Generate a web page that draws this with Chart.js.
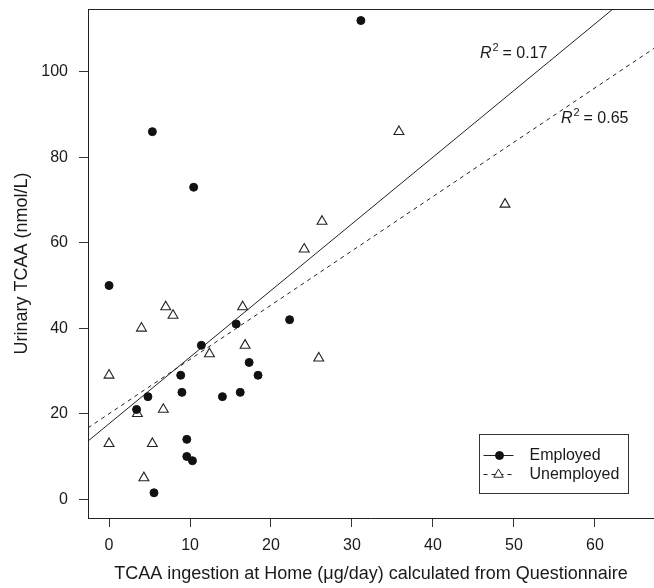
<!DOCTYPE html>
<html><head><meta charset="utf-8">
<script src="https://cdn.jsdelivr.net/npm/chart.js@4.4.0/dist/chart.umd.min.js"></script>
<style>html,body{margin:0;padding:0;background:#fff;}#wrap{width:654px;height:588px;position:relative;}</style>
</head><body><div id="wrap"><canvas id="c" width="654" height="588"></canvas></div>
<script>
// ---- data ----
const employedX = [5.35, 10.45, 31.1, 0, 15.7, 11.4, 17.3, 18.4, 8.85, 9.0, 4.8, 14.0, 16.2, 3.4, 9.6, 9.6, 10.3, 5.55, 22.3];
const employedY = [86, 73, 112, 50, 41, 36, 32, 29, 29, 25, 24, 24, 25, 21, 14, 10, 9, 1.5, 42];
const unemployedX = [35.8, 48.9, 26.3, 24.1, 7.0, 7.9, 4.0, 16.5, 16.8, 12.4, 0, 3.5, 6.7, 0, 5.35, 4.3, 25.9];
const unemployedY = [86, 69, 65, 58.5, 45, 43, 40, 45, 36, 34, 29, 20, 21, 13, 13, 5, 33];
const employedFitX = [-2.6, 67.3];
const employedFitY = [13.6, 122.6];
const unemployedFitX = [-2.6, 67.3];
const unemployedFitY = [16.7, 105.5];
const xTicks = [0, 10, 20, 30, 40, 50, 60];
const yTicks = [0, 20, 40, 60, 80, 100];
const xRange = [-2.6, 67.3];
const yRange = [-4.4, 114.7];
const r2Values = ['0.17', '0.65'];
const r2X = [45.8, 55.8];
const r2Y = [103.2, 88.0];
const legendLabels = ['Employed', 'Unemployed'];
const xTitle = 'TCAA ingestion at Home (\u03bcg/day) calculated from Questionnaire';
const yTitle = 'Urinary TCAA (nmol/L)';

const FAM = '"Liberation Sans", Arial, Helvetica, sans-serif';
const INK = '#1a1a1a';
Chart.defaults.font.family = FAM;
Chart.defaults.color = INK;

const pts = (xs, ys) => xs.map((v, i) => ({x: v, y: ys[i]}));

const decor = {
  id: 'decor',
  afterDatasetsDraw(chart) {
    const {ctx, chartArea: a, scales: {x, y}} = chart;
    ctx.save();
    // top frame line
    ctx.strokeStyle = '#222'; ctx.lineWidth = 1;
    ctx.beginPath();
    ctx.moveTo(a.left, Math.round(a.top) + 0.5);
    ctx.lineTo(a.right, Math.round(a.top) + 0.5);
    ctx.stroke();
    // R^2 annotations
    ctx.fillStyle = INK; ctx.textAlign = 'left'; ctx.textBaseline = 'alphabetic';
    r2X.forEach((vx, i) => {
      const px = x.getPixelForValue(vx), py = y.getPixelForValue(r2Y[i]);
      ctx.font = 'italic 16px ' + FAM;
      ctx.fillText('R', px, py);
      const w1 = ctx.measureText('R').width;
      ctx.font = '11px ' + FAM;
      ctx.fillText('2', px + w1 + 1, py - 7);
      const w2 = ctx.measureText('2').width;
      ctx.font = '16px ' + FAM;
      ctx.fillText('= ' + r2Values[i], px + w1 + w2 + 5, py);
    });
    // legend
    const lx = Math.round(a.right - 175) + 0.5, ly = Math.round(a.bottom - 84) + 0.5;
    const lw = 149, lh = 59;
    ctx.strokeStyle = '#333';
    ctx.strokeRect(lx, ly, lw, lh);
    const rows = [ly + 20, ly + 39];
    ctx.font = '16px ' + FAM; ctx.textBaseline = 'middle';
    legendLabels.forEach((lab, i) => {
      const ry = Math.round(rows[i]) + 0.5;
      ctx.strokeStyle = '#222'; ctx.lineWidth = 1;
      ctx.setLineDash(i === 0 ? [] : [4, 4]);
      ctx.beginPath(); ctx.moveTo(lx + 4, ry); ctx.lineTo(lx + 34, ry); ctx.stroke();
      ctx.setLineDash([]);
      if (i === 0) {
        ctx.fillStyle = '#111'; ctx.strokeStyle = '#111';
        Chart.helpers.drawPoint(ctx, {pointStyle: 'circle', radius: 4, borderWidth: 1}, lx + 20, ry);
      } else {
        ctx.fillStyle = '#fff'; ctx.strokeStyle = '#222';
        Chart.helpers.drawPoint(ctx, {pointStyle: 'triangle', radius: 5.5, borderWidth: 1}, lx + 19, ry);
      }
      ctx.fillStyle = INK;
      ctx.fillText(lab, lx + 50, ry);
    });
    ctx.restore();
  }
};

new Chart(document.getElementById('c'), {
  type: 'scatter',
  data: {
    datasets: [
      {label: legendLabels[0], data: pts(employedX, employedY), pointStyle: 'circle', pointRadius: 4,
       backgroundColor: '#111', borderColor: '#111', borderWidth: 1},
      {label: legendLabels[1], data: pts(unemployedX, unemployedY), pointStyle: 'triangle', pointRadius: 5.7,
       backgroundColor: '#fff', borderColor: '#222', borderWidth: 1.1},
      {type: 'line', label: 'fitE', data: pts(employedFitX, employedFitY), showLine: true, pointRadius: 0,
       borderColor: '#222', borderWidth: 1, fill: false},
      {type: 'line', label: 'fitU', data: pts(unemployedFitX, unemployedFitY), showLine: true, pointRadius: 0,
       borderColor: '#222', borderWidth: 1, borderDash: [4, 4], fill: false}
    ]
  },
  options: {
    responsive: false, animation: false, events: [], devicePixelRatio: 1,
    layout: {autoPadding: false, padding: {top: 9, left: 0, right: 0, bottom: 0}},
    plugins: {legend: {display: false}, tooltip: {enabled: false}},
    scales: {
      x: {
        type: 'linear', min: xRange[0], max: xRange[1],
        afterBuildTicks: s => { s.ticks = xTicks.map(v => ({value: v})); },
        afterFit: s => { s.height = 70; s.paddingLeft = 0; s.paddingRight = 0; s.paddingTop = 0; s.paddingBottom = 0; },
        grid: {display: true, drawOnChartArea: false, drawTicks: true, tickLength: 9, color: '#333', lineWidth: 1},
        border: {display: true, color: '#222', width: 1},
        ticks: {font: {size: 16}, color: INK, padding: 9, maxRotation: 0, autoSkip: false},
        title: {display: true, text: xTitle, font: {size: 18}, color: INK, padding: {top: 0, bottom: 3}}
      },
      y: {
        type: 'linear', min: yRange[0], max: yRange[1],
        afterBuildTicks: s => { s.ticks = yTicks.map(v => ({value: v})); },
        afterFit: s => { s.width = 88; s.paddingLeft = 0; s.paddingRight = 0; s.paddingTop = 0; s.paddingBottom = 0; },
        grid: {display: true, drawOnChartArea: false, drawTicks: true, tickLength: 9, color: '#333', lineWidth: 1},
        border: {display: true, color: '#222', width: 1},
        ticks: {font: {size: 16}, color: INK, padding: 11, autoSkip: false},
        title: {display: true, text: yTitle, font: {size: 18}, color: INK, padding: {top: 11, bottom: 0}}
      }
    }
  },
  plugins: [decor]
});
</script></body></html>
